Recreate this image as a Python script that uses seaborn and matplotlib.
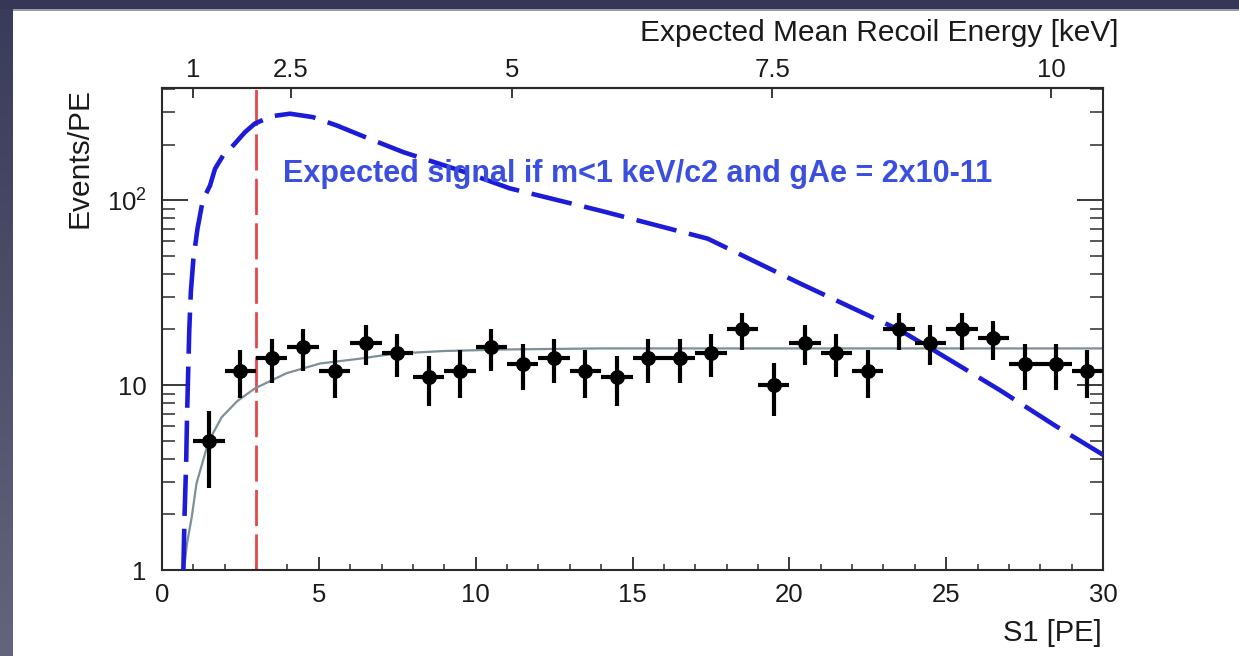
import numpy as np
import matplotlib
matplotlib.use("Agg")
import matplotlib.pyplot as plt
import seaborn as sns
from matplotlib.ticker import FixedLocator, FixedFormatter, LogLocator, MultipleLocator, NullFormatter

# Measured S1 spectrum, events per 1-PE bin
s1_bins = [1.5, 2.5, 3.5, 4.5, 5.5, 6.5, 7.5, 8.5, 9.5, 10.5,
           11.5, 12.5, 13.5, 14.5, 15.5, 16.5, 17.5, 18.5, 19.5, 20.5,
           21.5, 22.5, 23.5, 24.5, 25.5, 26.5, 27.5, 28.5, 29.5]
events = [5, 12, 14, 16, 12, 17, 15, 11, 12, 16,
          13, 14, 12, 11, 14, 14, 15, 20, 10, 17,
          15, 12, 20, 17, 20, 18, 13, 13, 12]

# Background model fitted to the spectrum
fit_s1 = [0.70, 0.80, 0.95, 1.10, 1.48, 1.90, 2.40, 2.96, 3.97, 5.04,
          6.3, 7.4, 9.0, 11.0, 14.0, 20.0, 30.0]
fit_rate = [1.0, 1.4, 1.94, 2.94, 4.94, 6.7, 8.2, 9.6, 11.6, 13.1,
            13.9, 14.8, 15.3, 15.6, 15.8, 15.8, 15.8]

# Expected axion signal spectrum
sig_s1 = [0.68, 0.72, 0.77, 0.80, 0.87, 0.92, 1.0, 1.13, 1.30, 1.53,
          1.69, 1.95, 2.27, 2.65, 2.96, 3.5, 4.08, 4.8, 5.57, 6.5,
          7.7, 9.5, 11.09, 13.96, 17.4, 20.34, 23.53, 24.59, 26.71, 28.5, 30.0]
sig_rate = [1.0, 2.0, 3.8, 7.0, 20, 32, 48, 70, 100, 120,
            148, 175, 198, 234, 260, 285, 294, 282, 254, 219,
            182, 145, 116, 88, 62, 35.5, 19.8, 15.5, 9.4, 6.0, 4.2]

# Analysis threshold in S1
threshold_s1 = 3.0

# Top axis: recoil energy labels and the S1 values they correspond to
energy_labels = ["1", "2.5", "5", "7.5", "10"]
energy_at_s1 = [0.99, 4.11, 11.16, 19.45, 28.34]

signal_text = "Expected signal if m<1 keV/c2 and gAe = 2x10-11"

sns.set_theme(style="ticks")
plt.rcParams["font.family"] = ["Liberation Sans", "DejaVu Sans"]
plt.rcParams["mathtext.fontset"] = "custom"
plt.rcParams["mathtext.rm"] = "Liberation Sans"
plt.rcParams["mathtext.it"] = "Liberation Sans:italic"

W, H = 1239, 656
fig = plt.figure(figsize=(W / 100, H / 100), dpi=100)

# Slide background: dark frame along the top and left edges
bg = np.ones((H, W, 3))
top_col = np.array([54, 54, 86]) / 255
bg[:9, :, :] = top_col
bg[9:11, :, :] = 0.5 * top_col + 0.5
rows = np.linspace(0, 1, H)[:, None]
left_col = (1 - rows) * np.array([58, 58, 90]) / 255 + rows * np.array([100, 100, 124]) / 255
bg[9:, :13, :] = left_col[9:, None, :].repeat(13, axis=1)
bga = fig.add_axes([0, 0, 1, 1], zorder=-10)
bga.imshow(bg, aspect="auto", interpolation="bilinear")
bga.axis("off")

ax = fig.add_axes([162 / W, (H - 570) / H, (1103 - 162) / W, (570 - 88) / H])
ax.set_facecolor("white")

# Signal expectation (blue dashed)
sns.lineplot(x=sig_s1, y=sig_rate, ax=ax, color="#1c1cd8", lw=3.3,
             sort=False, estimator=None, zorder=3)
ax.lines[-1].set_dashes([9.0, 2.8])

# Background fit (grey solid)
sns.lineplot(x=fit_s1, y=fit_rate, ax=ax, color="#7b9099", lw=1.6,
             sort=False, estimator=None, zorder=2)

# Threshold line (red dashed)
ax.axvline(threshold_s1, color="#e5484a", lw=2.0, dashes=[13, 3], zorder=1)

# Data points with Poisson errors
ax.errorbar(s1_bins, events, xerr=0.5, yerr=np.sqrt(events), fmt="none",
            ecolor="black", elinewidth=3.0, capsize=0, zorder=4)
sns.scatterplot(x=s1_bins, y=events, ax=ax, color="black", s=115,
                edgecolor="black", linewidth=0, zorder=5)

ax.text(3.86, 126, signal_text, color="#3a4ee0", fontsize=22,
        fontweight="bold", ha="left", va="baseline", zorder=6)

ax.set_yscale("log")
ax.set_xlim(0, 30)
ax.set_ylim(1, 405)

ax.xaxis.set_major_locator(MultipleLocator(5))
ax.xaxis.set_minor_locator(MultipleLocator(1))
ax.yaxis.set_major_locator(FixedLocator([1, 10, 100]))
ax.yaxis.set_major_formatter(FixedFormatter(["1", "10", r"$10^{2}$"]))
ax.yaxis.set_minor_locator(LogLocator(base=10, subs=np.arange(2, 10)))
ax.yaxis.set_minor_formatter(NullFormatter())

for sp in ax.spines.values():
    sp.set_color("#2a2a2a")
    sp.set_linewidth(1.5)

ax.tick_params(axis="x", which="major", direction="in", length=9.5, width=1.3,
               colors="#2a2a2a", labelcolor="#1a1a1a", labelsize=18.5, pad=9,
               top=False)
ax.tick_params(axis="x", which="minor", direction="in", length=4.5, width=1.1,
               colors="#2a2a2a", top=False)
ax.tick_params(axis="y", which="major", direction="in", length=19, width=1.3,
               colors="#2a2a2a", labelcolor="#1a1a1a", labelsize=18.5, pad=11,
               right=True)
ax.tick_params(axis="y", which="minor", direction="in", length=9.5, width=1.1,
               colors="#2a2a2a", right=True)

ax.set_xlabel("S1 [PE]", loc="right", fontsize=21, color="#1a1a1a")
ax.xaxis.set_label_coords(0.999, (570 - 633) / 482)
ax.xaxis.label.set_va("center")
ax.set_ylabel("Events/PE", loc="top", fontsize=21.5, color="#1a1a1a")
ax.yaxis.set_label_coords((80 - 162) / 941, 1.0)
ax.yaxis.label.set_va("center")

sec = ax.secondary_xaxis("top")
sec.set_xticks(energy_at_s1, labels=energy_labels)
sec.tick_params(direction="in", length=7, width=1.3, colors="#2a2a2a",
                labelcolor="#1a1a1a", labelsize=18.5, pad=4)
sec.xaxis.set_minor_locator(FixedLocator([]))
sec.spines["top"].set_color("#2a2a2a")
sec.spines["top"].set_linewidth(1.5)
sec.set_xlabel("Expected Mean Recoil Energy [keV]", loc="right", fontsize=21.5,
               color="#1a1a1a")
sec.xaxis.set_label_coords((1118 - 162) / 941, (570 - 33) / 482,
                           transform=ax.transAxes)
sec.xaxis.label.set_va("center")

fig.savefig("out.png", dpi=100)
